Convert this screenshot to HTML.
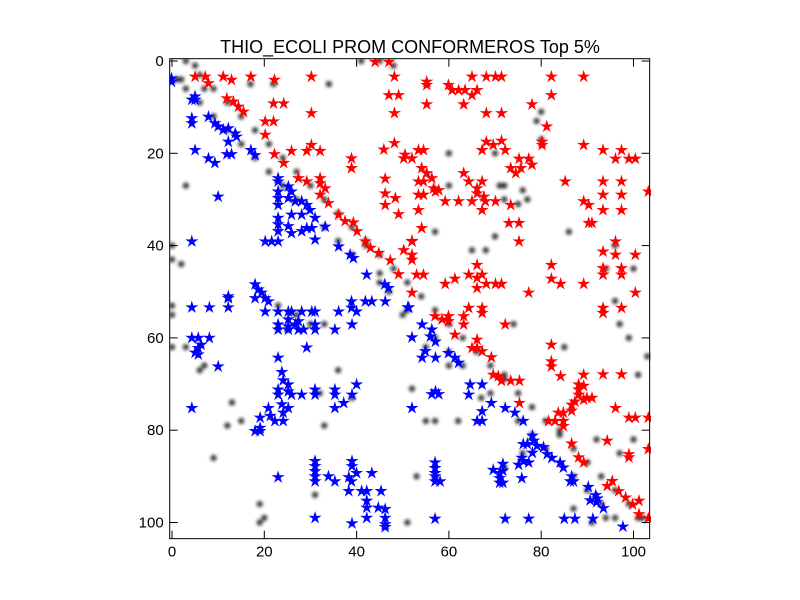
<!DOCTYPE html>
<html><head><meta charset="utf-8"><style>
body{margin:0;background:#fff;}
svg{display:block;font-family:"Liberation Sans","DejaVu Sans",sans-serif;}
</style></head><body>
<svg id="c" width="800" height="600">
<defs><filter id="bl" x="-1" y="-1" width="3" height="3"><feGaussianBlur stdDeviation="1.6"/></filter>
<clipPath id="pc"><rect x="170" y="59" width="481" height="482"/></clipPath></defs>
<rect width="800" height="600" fill="#fff"/>
<text x="410" y="53" text-anchor="middle" font-size="18">THIO_ECOLI PROM CONFORMEROS Top 5%</text>
<g id="plot" clip-path="url(#pc)"></g>
<g id="axes"></g>
</svg>
<script>
const xTicks=[0,20,40,60,80,100];
const yTicks=[0,20,40,60,80,100];
const redX=[5,7.2,7.9,11.1,12.9,17.1,22.2,30.2,48.2,44,47,11.9,13.3,14.4,15.5,22,24.2,30.2,47,49.1,48.2,20.2,22,20.2,22.2,25.9,29.2,30.2,32.1,24.2,27.4,29.2,32.1,32.1,33.2,32.1,33.9,36.1,37.5,39.3,40.1,41.9,43,44.8,38.9,38.9,45.9,48.2,50.2,46.2,46.2,48.4,46.2,49.1,50.2,47.3,49.1,52,
55.2,55.2,65,68.1,70.1,71.4,82.2,89.2,59.9,60.7,62.1,63.5,66.1,65,55.2,63.2,78,82.2,68.1,71.4,81.2,68.1,67.2,69.6,71.4,72.2,80.2,80.2,89.2,93.4,97.4,96.1,99,100.4,50.5,52,53.4,54.5,54.1,55.2,56.3,53.4,54.5,56.7,57.8,57.1,53.4,54.5,59.2,62.1,65,67.9,70.1,63.2,64.3,67.2,66.1,66.1,67.6,67.2,53.4,73.4,75.2,74.5,75.6,77.3,78,73.4,73,75.2,75.2,85.2,89.2,90.3,93.4,93.4,93.4,97.4,97.4,97.4,103.2,90.3,91,96.1,93.4,96.1,100.4,93.4,93.4,97.4,97.4,54.1,52,52,52,53,54.5,52,66.1,64.3,66.1,67.2,61.3,59.2,66.1,68.1,70.1,71.4,82.2,82.2,84.2,89.2,77.3,100.4,
57,58.5,59.9,59.9,63.2,63.2,64.3,67.2,67.2,72.2,61.3,66.1,65,66.1,67.2,69.2,93.4,93.4,97.4,82.2,82.2,82.2,84.2,69.6,70.7,71.4,73.4,75.3,89.2,88.1,88.1,89.2,88.1,89.9,91,89.2,86.6,87.3,93.4,97.4,75.3,96.1,99,100.4,103.2,86.6,84.8,83.7,81.6,83,84.8,84.8,86.6,94.3,88.1,89.2,99,99,103.2,94.3,95.4,96.8,98.3,99.8,101.2,101.2,103.2];
const redY=[3.4,3.4,4.8,3.4,4.1,3.4,4.1,3.4,3.4,0.2,0.2,8.1,8.8,9.9,11,9.2,9.2,11.3,7.4,7.4,11.3,13.1,13.1,16,20.2,19.5,19.5,18.2,19.5,22.1,25.4,26.1,25.4,26.5,27.6,29,30.8,33.3,34.7,35,36.9,39.1,40.5,41.6,21.1,23.2,19.2,17.8,21.1,25.5,28.7,29.7,31.2,33.2,41,43.2,46.2,39,
4.5,5.2,3.4,3.4,3.4,3.4,3.4,3.4,5.2,6.3,6.3,6.3,6.3,7.4,9.4,9.4,9.4,7.4,11.3,11.3,14.2,17.5,19.3,18.2,17.3,19.3,17.5,18.2,18.2,19.3,19.3,21.2,21.2,21.2,20.3,21.1,19.3,19.3,23.2,24.3,25.4,26.1,26.1,27.6,28,28.3,29,29,30.4,30.4,30.4,30.4,30.4,24.3,26.1,26.1,27.6,28.7,29.4,32.3,32.3,23.2,21.2,24.3,23.2,21.2,22.5,31.2,35.1,35.1,39.1,26.1,30.4,31.2,26.1,29,32.3,26.1,29,32.3,28.3,35.1,35.1,39.1,41.3,42,42,44.9,46.3,44.9,46.3,36.2,39.1,42,43.1,46.3,46.3,50.2,44.2,46.3,47,46.3,47.2,48.3,49.2,48.3,48.3,48.3,44.2,47.2,48.3,48.3,50.2,50.2,
55.3,56,55.3,56.4,55.3,57.1,53.5,53.5,54.6,57.1,59.3,60.4,62.2,62.2,62.9,64.2,53.5,54.6,53.5,61.5,65.1,66.2,68.3,68,68.3,69.3,69.3,69.3,68,70.1,71.2,70.4,72.3,73,73,73.4,74.5,73.8,67.9,67.9,74.1,75.2,77.3,77.3,77.3,75.8,76.2,76.2,78,78,78,79.1,82.9,82.3,85.9,87,85.2,85.9,84.1,92.1,91,93.2,94.6,96.1,95.3,98.2,99.1];
const blueX=[-0.1,-0.1,4.3,5,5,4.3,4.3,7.9,9.3,10,11.1,12.2,13.7,12.2,14,5,7.9,9.3,11.9,12.9,17.1,18,10,23,23,25.2,25.9,23,23,23,25.2,26.7,28.1,29.2,29.9,31,25.9,28.1,23,23,23,25.2,25.9,28.1,29.2,30.3,31,33.2,4.3,20.2,21.6,23,36.1,38.6,39.3,42.2,46.1,46.9,18,18.7,19.4,12.2,
4.3,8.1,12.2,12.2,18,20.2,20.2,20.9,23,25.2,25.9,28.1,30.3,31,36.1,38.9,38.9,40,41.9,43.3,46.2,51.1,23,23,25.2,25.2,25.2,26.7,27.4,27.4,28.5,31,31,35.3,39,4.3,5.7,8.1,5.7,5.7,5,6.3,29.2,23,10,23.8,24.1,25.2,23,23,25.2,25.9,28.1,31,31,35.3,35.3,40,39,37.2,35.3,4.3,20.9,23.8,24.1,25.2,19.1,21.3,22.3,24.1,18,19.1,19.1,31,31,31,31,31,33.9,35.3,23,39,39,40,38.3,38.9,43.3,38.3,41.1,42.2,45.3,42.2,42.2,44.7,46.2,46.2,46.2,46.2,42.2,31,39,
51.3,54.2,56.3,56,57.1,52,54.9,54.2,57.1,59.9,61.3,62.1,64.6,67.2,64.3,56.3,57.1,57.8,52,69.2,67.2,66.1,67.2,72.2,74.3,76.1,78.1,78.4,77,79.1,80.5,76.1,78.1,81.3,82.3,84.1,84.8,75.8,77.3,75.1,76.1,69.6,71,71.7,71.7,71,71.7,71,75.8,57,57,57,57,57,58.1,86.6,87,86.3,90.2,91.8,92.2,90.6,92,93.5,97.7,57,72.2,77.3,85,87.3,91.2];
const blueY=[3.8,4.5,8.4,7.7,8.4,12.4,13.5,12.1,13.5,14.2,14.9,14.6,15.7,17.5,16.4,19.3,21.1,22.1,20.2,20.2,19.3,20.4,29.4,25.4,26.1,27.2,28.3,28.3,29.7,31.2,29.7,30.4,30.4,31.2,32.3,34,33.3,33.3,34,35.4,36.9,35.8,37.3,36.9,36.2,36.2,38.7,35.9,39.1,39.1,39.1,39.1,40.2,42,42.7,46.3,48.4,49.2,48.4,49.5,50.2,51,
53.4,53.4,53.4,51.4,51.4,51.4,54.3,52.1,54.3,54.3,54.3,54.3,54.3,54.3,54.3,52.1,53.5,54.3,52.1,52.1,52.1,53.4,57.1,58.2,56,57.5,58.2,57.1,56.4,58.2,58.2,57.1,58.2,58.2,57.1,60,60,60,62.2,63.6,63.2,61.5,62.1,64.3,66.2,67.4,69.2,70.1,71.2,72.3,71.6,72.3,72.3,71.2,72.3,71.2,72.3,70.1,72.3,74.1,75.2,75.2,75.2,74.4,76.2,75.2,77.3,76.9,78,78,80.2,79.5,80.2,86.7,87.8,88.9,90,91.1,90,91.1,90.2,86.7,87.8,89.3,90.2,91.1,89.3,93.2,93.2,93.2,93.2,95.3,96.8,96.8,97.1,99,100.4,101,99,99,100.2,
53.4,57.1,58.2,59.7,60.8,59.9,62.9,64.3,64.3,63.3,64.3,65.4,70.1,70.1,72.3,72.2,71.6,72.2,75.2,74.1,75.9,78,78,75.2,76.2,78,81.2,82.3,83,83.4,83.7,83,84.9,85.2,86,87,88.1,86,87,87.5,86.7,88.6,89.3,87.3,88.8,90.4,91.4,91.4,90.4,87,88.2,89.3,90,91.1,91.1,90,91.1,91.1,92.3,94.1,94.8,95.2,95.6,96.9,100.9,99.2,99.2,99.2,99.2,99.2,99.2];
const blobX=[41,45,48,5,2,7,17,22,3,2,0,0,0,0,0,3,6,7,13,15,12,9,19,20,19,51,31,53,57,47,50,55,52,72,76,65,68,70,75,76,72,77,84,91,94,101,87,85,92,97,100,97,99,103,101,96,86,94,96,100,70,60,60,57,34,42,45,25,27,23,30,32,33,39,36,33,80,79,80,55,62,60,67,72,74,71,72,
3,6,9,12,15,18,21,24,27,30,33,36,39,42,45,48,51,54,57,60,63,66,69,72,75,78,81,84,87,90,93,96,99,102,
1,3,6,9,12,15,18,21,24,27,33,36,39,45,51,57,60,63,69,75,78,81,87,90,93,96];
const blobY=[0,0,1,1,4,6,5,5,27,44,40,43,53,55,62,62,67,66,74,78,79,86,96,99,100,100,94,90,78,50,55,62,71,88,85,41,41,38,31,28,27,30,80,100,99,99,97,62,82,85,82,57,60,64,68,52,37,45,40,45,20,20,27,37,5,40,46,58,55,53,57,72,79,73,67,57,17,13,11,78,78,66,73,68,57,27,30,
0,3,6,9,12,15,18,21,24,27,30,33,36,39,42,45,48,51,54,57,60,63,66,69,72,75,78,81,84,87,90,93,96,99,
4,6,9,12,15,18,21,24,27,30,36,39,42,48,54,60,63,66,72,78,81,84,90,93,96,99];

const NS='http://www.w3.org/2000/svg';
const X0=172,Y0=61,S=4.615;
function sx(v){return X0+v*S;}
function sy(v){return Y0+v*S;}
const plot=document.getElementById('plot'),axes=document.getElementById('axes');
function mk(t,a,p){const e=document.createElementNS(NS,t);for(const k in a)e.setAttribute(k,a[k]);(p||plot).appendChild(e);return e;}
const bg=mk('g',{filter:'url(#bl)'});


for(let i=0;i<blobX.length;i++){
  const c=mk('ellipse',{cx:sx(blobX[i]),cy:sy(blobY[i]),rx:3.2,ry:3.2,fill:'#000','fill-opacity':0.75},bg);
  
  
}
function star(cx,cy,r){let p=[];for(let k=0;k<10;k++){const a=-Math.PI/2+k*Math.PI/5,rr=k%2?r*0.36:r;p.push((cx+rr*Math.cos(a)).toFixed(1)+','+(cy+rr*Math.sin(a)).toFixed(1));}return p.join(' ');}
for(let i=0;i<redX.length;i++){
  const s=mk('polygon',{points:star(sx(redX[i]),sy(redY[i]),5.8),fill:'#ff0000',stroke:'#ff0000','stroke-width':0.6});
  
  
}
for(let i=0;i<blueX.length;i++){
  const s=mk('polygon',{points:star(sx(blueX[i]),sy(blueY[i]),5.8),fill:'#0000ff',stroke:'#0000ff','stroke-width':0.6});
  
  
}
const L=sx(-0.5),R=sx(103.5),T=sy(-0.5),B=sy(103.5);
const fr=mk('rect',{x:L,y:T,width:R-L,height:B-T,fill:'none',stroke:'#000','stroke-width':1},axes);


xTicks.forEach(v=>{
  const x=sx(v);
  mk('line',{x1:x,x2:x,y1:B,y2:B-8,stroke:'#000'},axes);
  mk('line',{x1:x,x2:x,y1:T,y2:T+8,stroke:'#000'},axes);
  const t=mk('text',{x:x,y:B+18,'text-anchor':'middle','font-size':15},axes);
  t.textContent=v;
  
  
});
yTicks.forEach(v=>{
  const y=sy(v);
  mk('line',{x1:L,x2:L+8,y1:y,y2:y,stroke:'#000'},axes);
  mk('line',{x1:R,x2:R-8,y1:y,y2:y,stroke:'#000'},axes);
  const t=mk('text',{x:L-6,y:y+5,'text-anchor':'end','font-size':15},axes);
  t.textContent=v;
  
  
});
</script>
</body></html>
